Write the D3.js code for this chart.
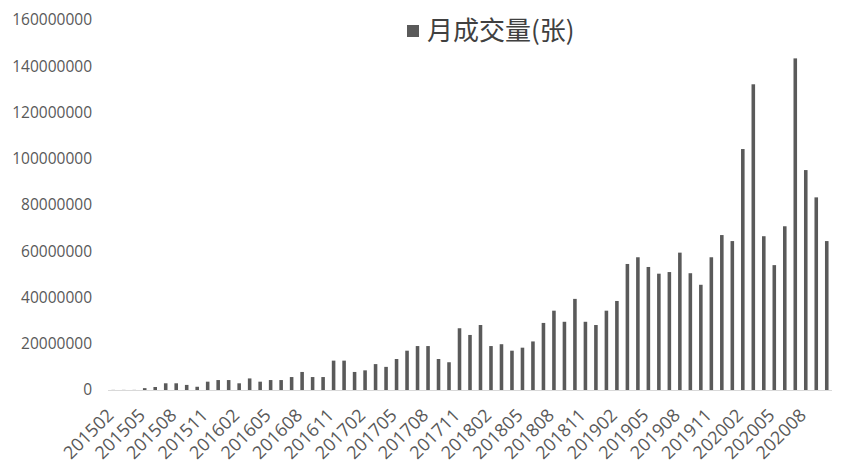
<!DOCTYPE html>
<html><head><meta charset="utf-8">
<script src="https://cdn.jsdelivr.net/npm/d3@7"></script>
<style>body{margin:0;background:#fff;}svg{display:block;}</style>
</head><body>
<svg id="c" width="842" height="469"></svg>
<script>
const months = [];
for (let y = 2015; y <= 2020; y++) for (let m = 1; m <= 12; m++) {
  const k = y * 100 + m;
  if (k >= 201502 && k <= 202010) months.push(String(k));
}
const seriesName = "月成交量(张)";
const volume = [
  0.05,0.05,0.05,0.8,1.3,2.9,2.9,2.2,1.4,3.6,4.3,
  4.3,2.9,5.0,3.6,4.3,4.3,5.6,7.8,5.6,5.6,12.7,12.7,
  7.8,8.5,11.2,10.0,13.4,17.0,19.0,19.0,13.4,12.0,26.7,23.8,
  28.1,19.0,19.8,17.0,18.3,21.0,29.0,34.3,29.5,39.4,29.5,28.1,
  34.3,38.5,54.5,57.4,53.2,50.3,51.0,59.4,50.5,45.5,57.4,67.0,
  64.4,104.2,132.2,66.5,54.0,70.8,143.4,95.1,83.3,64.4
].map(v => v * 1e6);
const yTicks = [0,20000000,40000000,60000000,80000000,100000000,120000000,140000000,160000000];

const svg = d3.select("#c");
const x = d3.scaleBand().domain(months).range([108, 832]).paddingInner(0.66).paddingOuter(0.33);
const y = d3.scaleLinear().domain([0, 160000000]).range([390, 20]);
const font = "'Open Sans', 'Noto Sans', sans-serif";

// y labels
svg.append("g").selectAll("text").data(yTicks).join("text")
  .attr("x", 92).attr("y", d => y(d)).attr("dy", "0.35em")
  .attr("text-anchor", "end").attr("fill", "#595959")
  .style("font-family", font).style("font-size", "15.5px")
  .text(d => String(d));

// bars
svg.append("g").selectAll("rect").data(months).join("rect")
  .attr("x", d => x(d)).attr("width", x.bandwidth())
  .attr("y", (d, i) => y(volume[i])).attr("height", (d, i) => y(0) - y(volume[i]))
  .attr("fill", "#5a5a5a");

// x axis line
svg.append("line").attr("x1", 108).attr("x2", 832).attr("y1", y(0) + 0.5).attr("y2", y(0) + 0.5)
  .attr("stroke", "#d9d9d9").attr("stroke-width", 1);

// x labels
svg.append("g").selectAll("text").data(months.filter((d, i) => i % 3 === 0)).join("text")
  .attr("transform", d => `translate(${x(d) + x.bandwidth() / 2 - 3},${412}) rotate(-45)`)
  .attr("text-anchor", "end").attr("dy", "0.35em").attr("fill", "#595959")
  .style("font-family", font).style("font-size", "18px")
  .text(d => d);

// legend
svg.append("rect").attr("x", 407).attr("y", 25).attr("width", 12).attr("height", 12).attr("fill", "#5a5a5a");
svg.append("text").attr("x", 427).attr("y", 31).attr("dy", "0.35em")
  .attr("fill", "#404040").style("font-family", "'Noto Sans CJK SC', sans-serif").style("font-size", "26px")
  .text(seriesName);
</script>
</body></html>
